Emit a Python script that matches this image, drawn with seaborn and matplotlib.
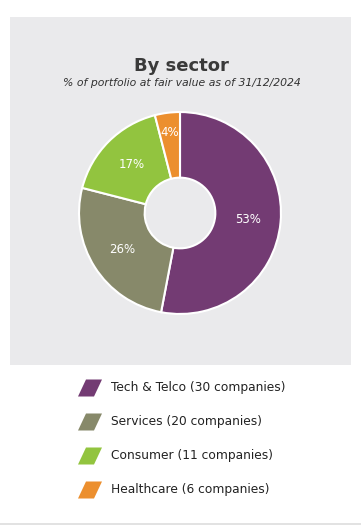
import matplotlib
matplotlib.use("Agg")
import matplotlib.pyplot as plt
import seaborn as sns
from matplotlib.patches import Polygon, Rectangle

# data
sectors = ["Tech & Telco", "Services", "Consumer", "Healthcare"]
shares = [53, 26, 17, 4]
companies = [30, 20, 11, 6]
colors = ["#733b73", "#87896a", "#92c43f", "#ec8f2e"]

sns.set_style("white")
plt.rcParams["font.family"] = ["DejaVu Sans"]
palette = sns.color_palette(colors)

W, H = 361, 526
fig = plt.figure(figsize=(W / 100, H / 100), dpi=100)

# background layer in pixel coordinates
bg = fig.add_axes([0, 0, 1, 1])
bg.set_xlim(0, W)
bg.set_ylim(H, 0)
bg.axis("off")
bg.add_patch(Rectangle((10, 17), 341, 348, color="#eaeaec", lw=0))
bg.plot([0, W], [523.5, 523.5], color="#dddddd", lw=1.2)

bg.text(181, 66, "By sector", ha="center", va="center", fontsize=13,
        fontweight="bold", color="#3a3a3a")
bg.text(182, 83, "% of portfolio at fair value as of 31/12/2024", ha="center",
        va="center", fontsize=7.8, style="italic", color="#333333")

# legend
for i, (name, n, c) in enumerate(zip(sectors, companies, palette)):
    y = 388 + i * 34
    bg.add_patch(Polygon([(78, y + 8.5), (86, y - 8.5), (102, y - 8.5), (94, y + 8.5)],
                         closed=True, color=c, lw=0))
    bg.text(111, y, f"{name} ({n} companies)", ha="left", va="center",
            fontsize=8.8, color="#222222")

# donut
cx, cy, r = 180, 213, 103
ax = fig.add_axes([(cx - r) / W, (H - cy - r) / H, 2 * r / W, 2 * r / H])
wedges, texts, autotexts = ax.pie(
    shares, colors=palette, startangle=90, counterclock=False,
    autopct=lambda p: f"{round(p):d}%", pctdistance=0.68,
    wedgeprops=dict(width=0.65, edgecolor="white", linewidth=1.5),
    textprops=dict(color="white", fontsize=8.5),
)
for v, t in zip(shares, autotexts):
    if v < 5:
        x0, y0 = t.get_position()
        t.set_position((x0 * 0.8 / 0.68, y0 * 0.8 / 0.68))
ax.set_xlim(-1.02, 1.02)
ax.set_ylim(-1.02, 1.02)
ax.axis("off")

fig.savefig("out.png", dpi=100)
